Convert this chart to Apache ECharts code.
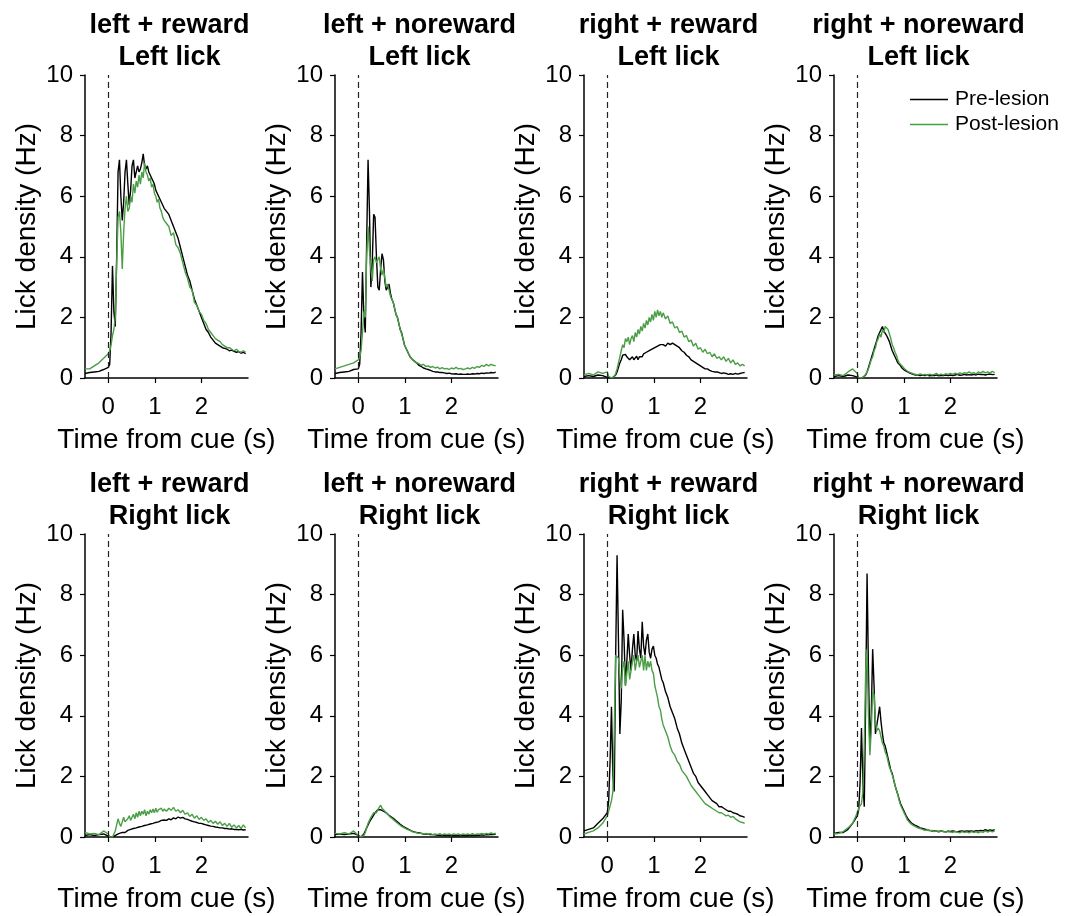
<!DOCTYPE html>
<html>
<head>
<meta charset="utf-8">
<script src="https://cdn.jsdelivr.net/npm/echarts@6/dist/echarts.min.js"></script>
<style>
html,body{margin:0;padding:0;background:#fff;}
#chart{width:1070px;height:916px;}
</style>
</head>
<body>
<div id="chart"></div>
<script>
// Time from cue (s)
const T = [-0.5,-0.4,-0.3,-0.2,-0.1,
  0,0.03,0.06,0.09,0.12,0.15,0.18,0.21,0.24,0.27,0.3,0.33,0.36,0.39,0.42,0.45,0.48,0.51,0.54,0.57,0.6,0.63,0.66,0.69,0.72,0.75,0.78,0.81,0.84,0.87,0.9,0.93,0.96,0.99,1.02,1.05,1.08,1.11,1.14,1.17,1.2,
  1.25,1.3,1.35,1.4,1.45,1.5,1.55,1.6,1.65,1.7,1.75,1.8,1.85,1.9,1.95,2.0,2.05,2.1,2.15,2.2,2.25,2.3,2.35,2.4,2.45,2.5,2.55,2.6,2.65,2.7,2.75,2.8,2.85,2.9,2.95];

const conditions = ['left + reward','left + noreward','right + reward','right + noreward'];
const lickSides = ['Left lick','Right lick'];
const xTickValues = [0,1,2];
const seriesNames = ['Pre-lesion','Post-lesion'];

// Row 1: Left lick
const pre1 = [0.15,0.18,0.2,0.22,0.28,
  0.35,0.45,1.5,3.7,2.2,1.7,4.0,6.8,7.2,6.0,5.2,5.8,6.8,7.2,6.4,5.7,6.2,7.0,7.2,6.6,6.6,7.0,6.8,6.9,7.1,7.4,7.0,6.9,7.0,6.8,6.8,6.6,6.5,6.4,6.2,6.1,6.0,5.9,5.8,5.7,5.6,
  5.5,5.4,5.2,5.0,4.8,4.6,4.3,4.0,3.7,3.4,3.2,2.9,2.6,2.4,2.2,2.0,1.8,1.6,1.5,1.35,1.25,1.15,1.1,1.05,1.0,0.98,0.95,0.9,0.92,0.88,0.85,0.87,0.82,0.85,0.8];
const post1 = [0.3,0.3,0.4,0.5,0.65,
  0.8,0.9,1.1,1.4,1.6,2.0,3.8,5.3,5.5,4.8,3.6,4.8,5.6,6.0,5.5,5.6,6.0,5.8,6.4,6.1,6.5,6.3,6.7,6.4,6.8,6.6,7.1,6.8,6.7,6.5,6.6,6.3,6.4,6.1,6.0,5.8,5.9,5.6,5.5,5.3,5.2,
  5.1,5.0,4.7,4.8,4.4,4.3,4.1,3.8,3.5,3.3,3.0,2.9,2.5,2.4,2.2,2.1,1.9,1.8,1.6,1.5,1.4,1.3,1.25,1.2,1.1,1.05,1.0,1.0,0.95,0.9,0.95,0.88,0.85,0.9,0.85];
const pre2 = [0.15,0.18,0.2,0.22,0.28,
  0.3,0.45,1.5,3.5,2.0,1.5,4.5,7.2,5.5,3.0,3.8,5.4,5.3,4.0,3.0,2.9,3.6,4.1,3.9,3.2,2.9,3.0,3.1,2.8,2.6,2.5,2.3,2.1,2.0,1.8,1.6,1.5,1.3,1.1,1.0,0.9,0.8,0.7,0.65,0.6,0.55,
  0.5,0.42,0.38,0.33,0.3,0.28,0.25,0.22,0.2,0.2,0.18,0.18,0.17,0.15,0.16,0.14,0.13,0.14,0.12,0.13,0.12,0.12,0.13,0.12,0.14,0.13,0.15,0.14,0.16,0.15,0.17,0.16,0.18,0.17,0.19];
const post2 = [0.3,0.35,0.4,0.45,0.5,
  0.6,0.7,0.9,1.5,2.2,2.0,4.0,5.0,4.2,3.6,3.2,3.9,4.0,3.8,3.9,4.0,3.6,3.4,3.6,3.3,3.0,3.1,2.9,2.7,2.6,2.5,2.3,2.1,2.0,1.8,1.6,1.45,1.3,1.1,1.0,0.9,0.8,0.75,0.65,0.6,0.55,
  0.5,0.48,0.42,0.45,0.38,0.4,0.35,0.38,0.33,0.36,0.3,0.34,0.3,0.32,0.28,0.33,0.3,0.35,0.3,0.32,0.28,0.3,0.33,0.3,0.35,0.32,0.38,0.35,0.42,0.38,0.45,0.4,0.45,0.42,0.4];
const pre3 = [0.05,0.08,0.05,0.1,0.08,
  0.02,0,0,0,0.02,0.05,0.1,0.2,0.35,0.5,0.6,0.75,0.8,0.78,0.7,0.65,0.6,0.62,0.7,0.6,0.65,0.72,0.6,0.7,0.75,0.7,0.8,0.75,0.85,0.8,0.9,0.85,0.95,0.9,1.0,0.95,1.05,1.0,1.1,1.05,1.1,
  1.05,1.15,1.1,1.15,1.1,1.05,1.0,0.9,0.85,0.75,0.7,0.6,0.55,0.5,0.45,0.4,0.35,0.3,0.3,0.25,0.22,0.2,0.2,0.18,0.15,0.17,0.15,0.12,0.14,0.12,0.15,0.13,0.15,0.17,0.18];
const post3 = [0.1,0.15,0.1,0.2,0.15,
  0.2,0.05,0,0,0,0.05,0.15,0.3,0.5,0.7,0.9,1.1,1.0,1.3,1.2,1.35,1.1,1.3,1.4,1.2,1.5,1.35,1.6,1.45,1.7,1.55,1.8,1.65,1.9,1.75,2.0,1.85,2.1,1.9,2.2,2.0,2.25,2.05,2.2,2.0,2.15,
  1.95,2.05,1.8,1.85,1.65,1.7,1.5,1.55,1.35,1.4,1.2,1.25,1.05,1.15,0.95,1.0,0.85,0.95,0.8,0.85,0.7,0.8,0.65,0.7,0.6,0.7,0.55,0.65,0.5,0.6,0.45,0.5,0.4,0.45,0.4];
const pre4 = [0.05,0.08,0.05,0.1,0.08,
  0.03,0,0,0,0.02,0.05,0.1,0.2,0.35,0.5,0.65,0.8,0.95,1.1,1.25,1.4,1.5,1.6,1.7,1.55,1.5,1.4,1.35,1.2,1.05,0.9,0.8,0.7,0.6,0.5,0.45,0.4,0.33,0.3,0.25,0.22,0.2,0.17,0.15,0.14,0.12,
  0.1,0.1,0.08,0.1,0.08,0.1,0.07,0.09,0.08,0.1,0.07,0.09,0.08,0.1,0.08,0.1,0.08,0.1,0.12,0.09,0.1,0.12,0.1,0.11,0.1,0.12,0.1,0.13,0.11,0.12,0.1,0.12,0.13,0.11,0.12];
const post4 = [0.1,0.12,0.08,0.2,0.3,
  0.15,0.02,0,0,0.02,0.05,0.1,0.2,0.3,0.45,0.6,0.7,0.9,1.0,1.2,1.3,1.45,1.35,1.6,1.5,1.7,1.75,1.6,1.45,1.3,1.1,1.0,0.85,0.75,0.6,0.5,0.45,0.4,0.35,0.3,0.28,0.22,0.2,0.18,0.15,0.14,
  0.12,0.1,0.14,0.1,0.12,0.09,0.13,0.1,0.12,0.15,0.1,0.13,0.1,0.14,0.12,0.15,0.12,0.16,0.13,0.17,0.14,0.18,0.15,0.2,0.15,0.18,0.14,0.2,0.16,0.22,0.17,0.2,0.16,0.22,0.18];

// Row 2: Right lick
const pre5 = [0.05,0.08,0.05,0.08,0.1,
  0.03,0,0,0,0.02,0.05,0.08,0.1,0.12,0.1,0.15,0.18,0.15,0.2,0.22,0.18,0.25,0.22,0.28,0.25,0.3,0.27,0.33,0.3,0.35,0.32,0.38,0.35,0.4,0.38,0.43,0.4,0.45,0.42,0.48,0.45,0.5,0.48,0.55,0.5,0.56,
  0.55,0.6,0.57,0.63,0.6,0.66,0.62,0.65,0.6,0.58,0.55,0.52,0.5,0.48,0.45,0.45,0.42,0.4,0.38,0.36,0.35,0.33,0.32,0.3,0.3,0.28,0.28,0.26,0.27,0.25,0.25,0.24,0.25,0.23,0.24];
const post5 = [0.15,0.1,0.12,0.08,0.2,
  0.1,0,0,0,0.05,0.2,0.4,0.6,0.45,0.35,0.5,0.65,0.5,0.45,0.6,0.7,0.55,0.65,0.75,0.6,0.8,0.65,0.85,0.7,0.85,0.75,0.9,0.7,0.85,0.75,0.9,0.8,0.92,0.8,0.95,0.82,0.9,0.85,0.95,0.85,0.92,
  0.85,0.95,0.88,0.98,0.85,0.9,0.8,0.88,0.75,0.8,0.68,0.75,0.62,0.7,0.58,0.65,0.55,0.6,0.48,0.55,0.45,0.52,0.42,0.5,0.38,0.45,0.35,0.45,0.32,0.4,0.3,0.38,0.28,0.4,0.3];
const pre6 = [0.08,0.1,0.08,0.1,0.12,
  0.05,0,0,0.02,0.1,0.2,0.3,0.4,0.5,0.55,0.65,0.7,0.8,0.85,0.9,0.95,0.9,0.95,0.85,0.88,0.8,0.78,0.72,0.7,0.65,0.6,0.58,0.52,0.5,0.45,0.42,0.38,0.35,0.33,0.3,0.28,0.25,0.23,0.2,0.18,0.17,
  0.15,0.14,0.12,0.1,0.1,0.09,0.08,0.08,0.07,0.06,0.06,0.05,0.06,0.05,0.05,0.05,0.04,0.05,0.04,0.05,0.05,0.04,0.05,0.05,0.06,0.05,0.06,0.06,0.07,0.06,0.08,0.07,0.09,0.08,0.1];
const post6 = [0.12,0.1,0.14,0.1,0.2,
  0.05,0,0,0,0.05,0.15,0.3,0.45,0.55,0.65,0.72,0.8,0.85,0.8,0.9,0.95,1.05,0.95,0.9,0.85,0.8,0.75,0.7,0.65,0.62,0.58,0.55,0.5,0.48,0.42,0.4,0.35,0.33,0.3,0.28,0.25,0.22,0.22,0.18,0.17,0.15,
  0.14,0.12,0.13,0.1,0.12,0.09,0.11,0.08,0.1,0.08,0.11,0.07,0.1,0.08,0.1,0.07,0.1,0.08,0.1,0.07,0.1,0.08,0.1,0.08,0.11,0.08,0.1,0.09,0.12,0.09,0.12,0.1,0.14,0.1,0.13];
const pre7 = [0.2,0.25,0.3,0.45,0.6,
  0.8,1.2,2.5,4.3,2.0,1.5,6.0,9.3,6.5,3.4,4.5,7.5,6.5,5.0,5.8,6.7,6.0,5.5,6.2,6.7,6.0,5.8,6.8,6.2,5.9,7.1,6.3,6.0,6.5,6.7,6.1,5.9,6.2,6.3,6.0,5.9,5.7,5.6,5.4,5.2,5.1,
  4.8,4.6,4.3,4.1,3.9,3.6,3.4,3.1,2.9,2.7,2.5,2.3,2.1,2.0,1.8,1.7,1.6,1.5,1.4,1.3,1.2,1.15,1.1,1.0,1.0,0.95,0.9,0.85,0.85,0.8,0.78,0.75,0.7,0.68,0.65];
const post7 = [0.1,0.15,0.2,0.3,0.45,
  0.7,0.85,0.9,1.2,1.5,3.5,6.0,6.0,5.9,5.3,4.9,5.6,5.8,5.0,5.4,5.8,5.2,5.5,5.8,6.0,5.5,5.8,6.0,5.6,5.8,6.0,5.5,6.0,5.5,5.8,5.6,5.8,5.5,5.4,5.0,4.8,4.6,4.3,4.2,3.9,3.7,
  3.5,3.3,3.0,2.8,2.7,2.5,2.4,2.2,2.1,2.0,1.85,1.7,1.6,1.5,1.4,1.3,1.2,1.1,1.05,1.0,0.95,0.9,0.85,0.8,0.8,0.75,0.7,0.72,0.65,0.68,0.6,0.55,0.5,0.48,0.45];
const pre8 = [0.12,0.15,0.15,0.25,0.45,
  0.7,0.9,1.8,3.6,1.8,1.0,4.5,8.7,5.5,3.0,4.0,6.2,5.0,3.4,3.7,4.0,4.3,3.8,3.4,3.1,3.0,2.8,2.6,2.4,2.2,2.1,1.9,1.7,1.55,1.4,1.25,1.1,1.0,0.9,0.8,0.7,0.62,0.55,0.5,0.45,0.42,
  0.38,0.34,0.3,0.28,0.26,0.24,0.22,0.2,0.2,0.19,0.18,0.2,0.18,0.17,0.19,0.18,0.2,0.18,0.17,0.19,0.2,0.18,0.2,0.19,0.2,0.18,0.21,0.2,0.22,0.2,0.24,0.21,0.23,0.22,0.24];
const post8 = [0.1,0.12,0.18,0.3,0.45,
  0.8,0.95,1.0,1.1,1.5,3.0,5.5,6.2,4.0,2.7,3.5,4.8,4.7,3.8,3.5,3.6,3.5,3.3,3.1,3.0,2.8,2.7,2.5,2.3,2.2,2.05,1.9,1.7,1.55,1.4,1.2,1.05,0.95,0.85,0.75,0.65,0.55,0.5,0.45,0.4,0.38,
  0.34,0.3,0.28,0.25,0.22,0.24,0.2,0.22,0.18,0.2,0.16,0.2,0.18,0.16,0.2,0.17,0.15,0.18,0.16,0.14,0.18,0.15,0.17,0.14,0.18,0.15,0.17,0.14,0.18,0.15,0.2,0.16,0.2,0.17,0.2];

const preAll = [pre1,pre2,pre3,pre4,pre5,pre6,pre7,pre8];
const postAll = [post1,post2,post3,post4,post5,post6,post7,post8];

const FONT = '"Liberation Sans", Arial, Helvetica, sans-serif';
const BLACK = '#000000';
const GREEN = '#4a9e46';
const gridLefts = [85, 335, 584, 834];
const gridTops = [75, 534];
const GW = 163, GH = 303;

const grids = [], xAxes = [], yAxes = [], series = [], titles = [];
for (let r = 0; r < 2; r++) {
  for (let c = 0; c < 4; c++) {
    const i = r * 4 + c;
    grids.push({left: gridLefts[c], top: gridTops[r], width: GW, height: GH, containLabel: false});
    xAxes.push({
      type: 'value', gridIndex: i, min: -0.5, max: 3,
      name: 'Time from cue (s)', nameLocation: 'middle', nameGap: 48,
      nameTextStyle: {fontSize: 28, color: BLACK, fontFamily: FONT},
      axisLine: {show: true, onZero: false, lineStyle: {color: BLACK, width: 1.5}},
      axisTick: {show: true, length: 5, lineStyle: {color: BLACK, width: 1.2}, customValues: xTickValues},
      axisLabel: {fontSize: 24, color: BLACK, fontFamily: FONT, margin: 17, customValues: xTickValues},
      splitLine: {show: false}
    });
    yAxes.push({
      type: 'value', gridIndex: i, min: 0, max: 10, interval: 2,
      name: 'Lick density (Hz)', nameLocation: 'middle', nameGap: 44,
      nameTextStyle: {fontSize: 28, color: BLACK, fontFamily: FONT},
      axisLine: {show: true, onZero: false, lineStyle: {color: BLACK, width: 1.5}},
      axisTick: {show: true, length: 5, lineStyle: {color: BLACK, width: 1.2}},
      axisLabel: {fontSize: 24, color: BLACK, fontFamily: FONT, margin: 12},
      splitLine: {show: false}
    });
    titles.push({
      text: conditions[c] + '\n' + lickSides[r],
      left: gridLefts[c] + GW / 2 - 2, top: gridTops[r] - 70, textAlign: 'center',
      textStyle: {fontSize: 27, fontWeight: 'bold', color: BLACK, fontFamily: FONT, lineHeight: 32}
    });
    series.push({
      name: seriesNames[0], type: 'line', xAxisIndex: i, yAxisIndex: i,
      data: T.map((t, k) => [t, preAll[i][k]]),
      symbol: 'none', showSymbol: false, silent: true,
      lineStyle: {color: BLACK, width: 1.4}, itemStyle: {color: BLACK},
      z: 2,
      markLine: {
        silent: true, symbol: 'none', label: {show: false},
        lineStyle: {color: '#222222', type: [6, 4], width: 1.2},
        data: [{xAxis: 0}]
      }
    });
    series.push({
      name: seriesNames[1], type: 'line', xAxisIndex: i, yAxisIndex: i,
      data: T.map((t, k) => [t, postAll[i][k]]),
      symbol: 'none', showSymbol: false, silent: true,
      lineStyle: {color: GREEN, width: 1.4}, itemStyle: {color: GREEN},
      z: 3
    });
  }
}

const chart = echarts.init(document.getElementById('chart'), null, {renderer: 'canvas'});
chart.setOption({
  backgroundColor: '#ffffff',
  animation: false,
  title: titles,
  legend: {
    data: [
      {name: seriesNames[0], icon: 'rect', itemStyle: {color: BLACK}},
      {name: seriesNames[1], icon: 'rect', itemStyle: {color: GREEN}}
    ],
    orient: 'vertical', left: 905, top: 84,
    itemWidth: 38, itemHeight: 1.5, itemGap: 4,
    textStyle: {fontSize: 21, color: BLACK, fontFamily: FONT, padding: [0, 0, 0, 2]},
    selectedMode: false
  },
  grid: grids, xAxis: xAxes, yAxis: yAxes, series: series
});
</script>
</body>
</html>
